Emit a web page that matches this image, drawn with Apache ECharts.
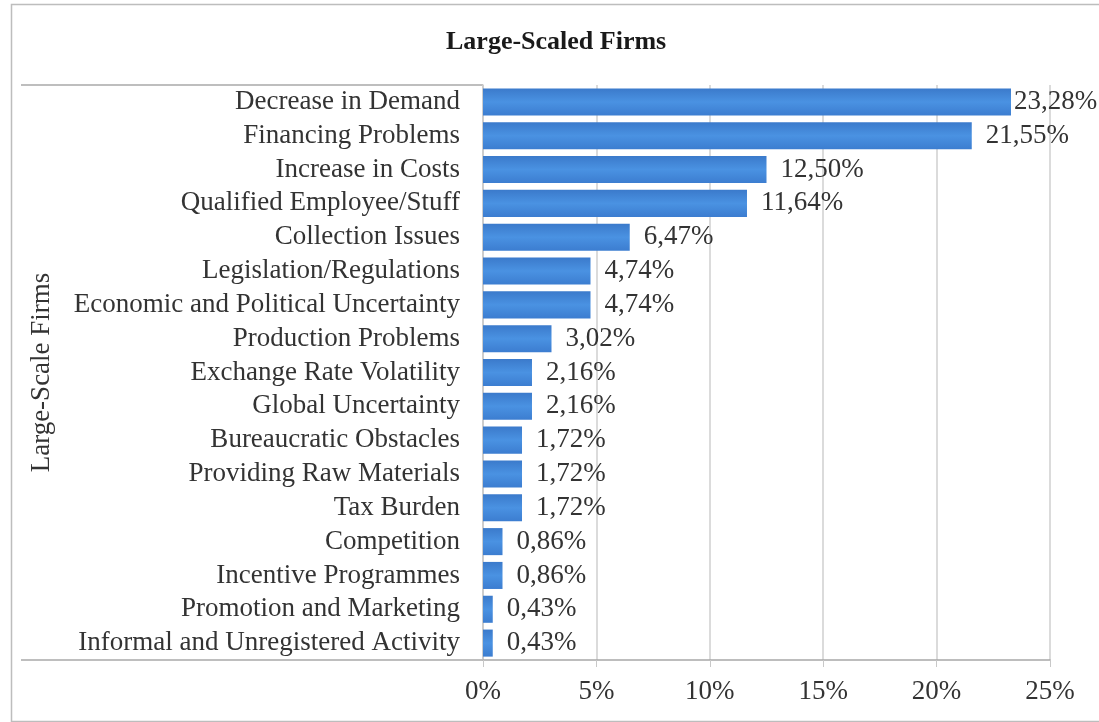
<!DOCTYPE html>
<html>
<head>
<meta charset="utf-8">
<script src="https://cdn.jsdelivr.net/npm/echarts@6/dist/echarts.min.js"></script>
<style>
html,body{margin:0;padding:0;background:#fff;}
#chart{width:1099px;height:722px;}
</style>
</head>
<body>
<div id="chart"></div>
<script>
const categories = [
  "Decrease in Demand",
  "Financing Problems",
  "Increase in Costs",
  "Qualified Employee/Stuff",
  "Collection Issues",
  "Legislation/Regulations",
  "Economic and Political Uncertainty",
  "Production Problems",
  "Exchange Rate Volatility",
  "Global Uncertainty",
  "Bureaucratic Obstacles",
  "Providing Raw Materials",
  "Tax Burden",
  "Competition",
  "Incentive Programmes",
  "Promotion and Marketing",
  "Informal and Unregistered Activity"
];
const values = [23.28, 21.55, 12.50, 11.64, 6.47, 4.74, 4.74, 3.02, 2.16, 2.16, 1.72, 1.72, 1.72, 0.86, 0.86, 0.43, 0.43];
const xTicks = [0, 5, 10, 15, 20, 25];

const serif = '"Liberation Serif", "Times New Roman", serif';
const chart = echarts.init(document.getElementById('chart'));
const barColor = new echarts.graphic.LinearGradient(0, 0, 0, 1, [
  {offset: 0, color: '#3b7acb'},
  {offset: 0.5, color: '#4a92e2'},
  {offset: 1, color: '#3c7dd0'}
]);
chart.setOption({
  animation: false,
  backgroundColor: '#fff',
  title: {
    text: 'Large-Scaled Firms',
    left: 441,
    top: 24,
    textStyle: {fontFamily: serif, fontWeight: 'bold', fontSize: 26, color: '#1a1a1a'}
  },
  graphic: [
    {type: 'rect', left: 9, top: 2, shape: {width: 1100, height: 717}, style: {fill: 'none', stroke: '#bdbdbd', lineWidth: 1.5}},
    {type: 'line', shape: {x1: 21, y1: 85, x2: 483, y2: 85}, style: {stroke: '#a8a8a8', lineWidth: 1.5}},
    {type: 'line', shape: {x1: 21, y1: 660, x2: 483, y2: 660}, style: {stroke: '#a8a8a8', lineWidth: 1.5}}
  ],
  grid: {left: 483, right: 49, top: 85, bottom: 62, containLabel: false},
  xAxis: {
    type: 'value',
    min: 0, max: 25, interval: 5,
    axisLine: {show: true, lineStyle: {color: '#a8a8a8', width: 1.5}},
    axisTick: {show: true, length: 7, lineStyle: {color: '#c8c8c8'}},
    splitLine: {show: true, lineStyle: {color: '#cfcfcf', width: 1.5}},
    axisLabel: {
      margin: 18,
      fontFamily: serif, fontSize: 27, color: '#333',
      formatter: v => xTicks.includes(v) ? v + '%' : ''
    }
  },
  yAxis: {
    type: 'category',
    data: categories,
    inverse: true,
    name: 'Large-Scale Firms',
    nameLocation: 'middle',
    nameGap: 428,
    nameRotate: 90,
    nameTextStyle: {fontFamily: serif, fontSize: 27, color: '#333'},
    axisLine: {show: true, lineStyle: {color: '#c8c8c8', width: 1.5}},
    axisTick: {show: false},
    axisLabel: {interval: 0, hideOverlap: false, margin: 23, fontFamily: serif, fontSize: 27, color: '#333'}
  },
  series: [{
    type: 'bar',
    data: values.map((v, i) => ({
      value: v,
      label: i === 0 ? {distance: 3} : undefined
    })),
    barCategoryGap: '20%',
    itemStyle: {color: barColor},
    label: {
      show: true,
      position: 'right',
      distance: 14,
      fontFamily: serif, fontSize: 27, color: '#333',
      formatter: p => p.value.toFixed(2).replace('.', ',') + '%'
    }
  }]
});
</script>
</body>
</html>
